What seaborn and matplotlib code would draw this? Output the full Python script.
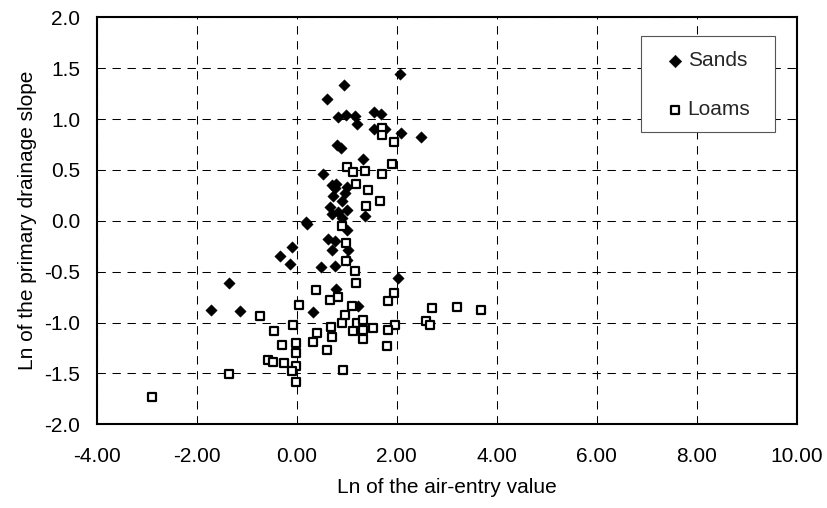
import matplotlib
matplotlib.use("Agg")
import matplotlib.pyplot as plt
from matplotlib.patches import Rectangle
from matplotlib.ticker import FormatStrFormatter, MultipleLocator
import seaborn as sns
import pandas as pd

# Sands (filled diamonds)
sands_x = [2.07, 0.94, 0.60, 0.83, 0.99, 1.17, 1.21, 1.54, 1.68, 1.55, 1.77, 2.08, 2.48,
           0.81, 0.88, 1.33, 0.52, 0.70, 0.77, 0.97, 0.73, 0.90, 0.67, 0.70, 0.83, 1.00,
           0.90, 1.37, 0.18, 0.21, 1.00, 0.63, 0.77, 0.71, 1.03, 1.00, 0.48, 0.77, -0.10,
           -0.33, -0.13, -1.35, -1.71, -1.13, 0.33, 0.78, 2.03, 1.23, 1.00, 0.78]
sands_y = [1.44, 1.33, 1.20, 1.02, 1.04, 1.03, 0.95, 1.07, 1.05, 0.90, 0.90, 0.86, 0.82,
           0.745, 0.72, 0.61, 0.46, 0.35, 0.32, 0.27, 0.24, 0.19, 0.14, 0.07, 0.09, 0.11,
           0.03, 0.05, -0.01, -0.03, -0.09, -0.18, -0.20, -0.29, -0.29, -0.385, -0.45, -0.44, -0.26,
           -0.35, -0.42, -0.61, -0.88, -0.89, -0.90, -0.67, -0.565, -0.84, 0.33, 0.36]

# Loams (open squares)
loams_x = [1.71, 1.70, 1.95, 1.91, 1.70, 1.00, 1.13, 1.36, 1.19, 1.43, 1.67, 1.39, 0.90,
           0.98, 0.98, 1.17, 1.18, 0.39, 0.67, 0.82, 0.05, -0.73, -0.07, -0.45, -0.30, -0.01,
           -0.01, -0.01, -0.57, -0.47, -0.25, -0.10, -0.01, -1.36, -2.90, 0.40, 0.33, 0.68,
           0.71, 0.61, 0.91, 0.97, 0.93, 1.95, 1.82, 1.10, 1.20, 1.33, 1.33, 1.53, 1.12, 1.33,
           1.97, 1.82, 1.81, 2.70, 2.58, 2.67, 3.21, 3.69]
loams_y = [0.91, 0.84, 0.775, 0.56, 0.46, 0.53, 0.48, 0.49, 0.36, 0.30, 0.19, 0.145, -0.05,
           -0.215, -0.40, -0.49, -0.61, -0.68, -0.78, -0.75, -0.83, -0.94, -1.02, -1.08, -1.22, -1.20,
           -1.30, -1.43, -1.37, -1.39, -1.40, -1.48, -1.58, -1.51, -1.73, -1.10, -1.19, -1.04,
           -1.14, -1.27, -1.00, -0.93, -1.47, -0.71, -0.79, -0.84, -1.00, -0.975, -1.07, -1.05, -1.08, -1.16,
           -1.02, -1.07, -1.23, -0.86, -0.985, -1.02, -0.85, -0.88]

sands = pd.DataFrame({"x": sands_x, "y": sands_y})
loams = pd.DataFrame({"x": loams_x, "y": loams_y})

sns.set_theme(style="white")
plt.rcParams["font.family"] = ["Liberation Sans", "DejaVu Sans"]
plt.rcParams["lines.scale_dashes"] = False

fig = plt.figure(figsize=(8.28, 5.08), dpi=100)
ax = fig.add_axes([0.1168, 0.1648, 0.8454, 0.8011])

sns.scatterplot(data=sands, x="x", y="y", ax=ax, marker="D", s=34, color="black",
                edgecolor="black", linewidth=0.3, label="Sands", zorder=3)
sns.scatterplot(data=loams, x="x", y="y", ax=ax, marker="s", s=34, color="white",
                edgecolor="black", linewidth=1.6, label="Loams", zorder=3)

ax.set_xlim(-4, 10)
ax.set_ylim(-2, 2)
ax.xaxis.set_major_locator(MultipleLocator(2))
ax.yaxis.set_major_locator(MultipleLocator(0.5))
ax.xaxis.set_major_formatter(FormatStrFormatter("%.2f"))
ax.yaxis.set_major_formatter(FormatStrFormatter("%.1f"))

ax.set_axisbelow(True)
ax.grid(True, color="black", linewidth=0.75, linestyle=(0, (6, 4.8)))
for sp in ax.spines.values():
    sp.set_color("black")
    sp.set_linewidth(1.5)

ax.tick_params(axis="both", direction="in", length=4.3, width=0.75, color="black",
               labelsize=15, labelcolor="black")
ax.tick_params(axis="x", pad=16)
ax.tick_params(axis="y", pad=12)
ax.set_xlabel("Ln of the air-entry value", fontsize=15, color="black", labelpad=9)
ax.set_ylabel("Ln of the primary drainage slope", fontsize=15, color="black", labelpad=5)

leg = ax.legend(loc="center left", bbox_to_anchor=(0.7966, 0.833), frameon=False,
                fontsize=15, handlelength=1.0, handletextpad=0.1, labelspacing=1.42,
                borderpad=0, scatterpoints=1, markerscale=1.1)
ax.add_patch(Rectangle((0.7771, 0.7189), 0.1923, 0.2359, transform=ax.transAxes,
                       facecolor="white", edgecolor="#555555", linewidth=0.8, zorder=2))
leg.set_zorder(4)

fig.savefig("out.png", dpi=100)
